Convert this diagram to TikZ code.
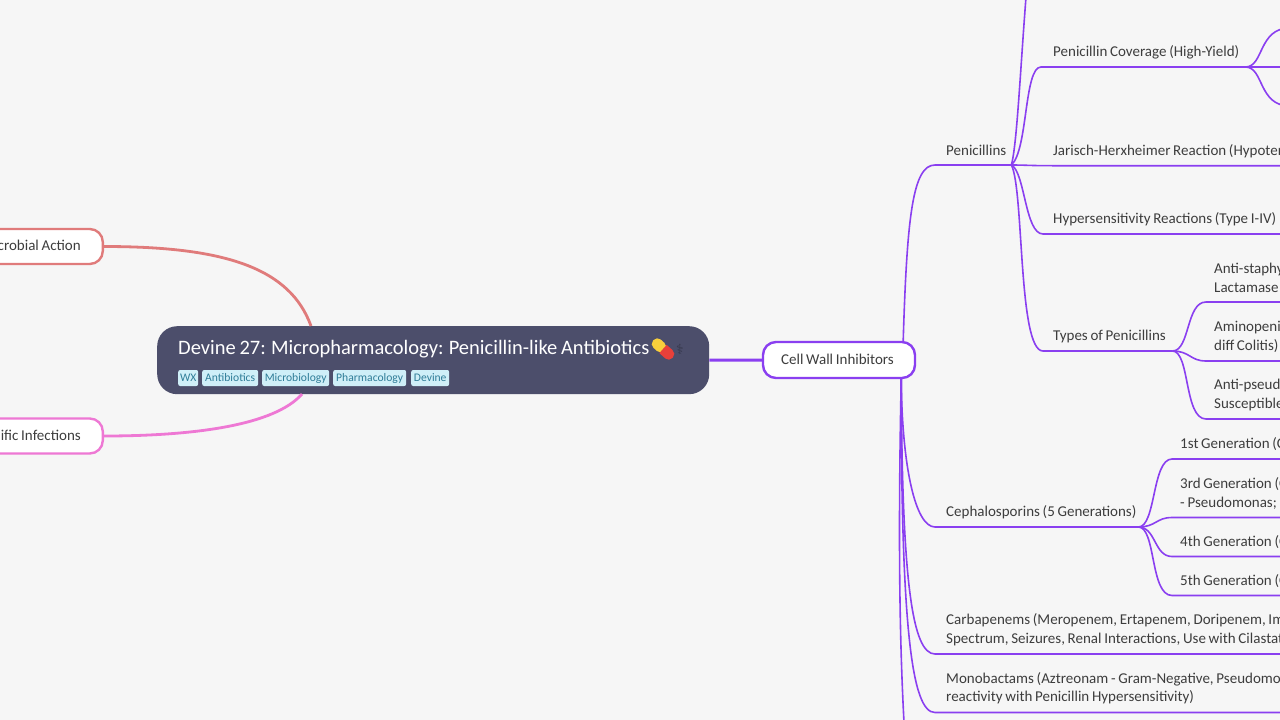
\documentclass[tikz,border=0pt]{standalone}
\usepackage{fontspec}
\setmainfont{Carlito}[WordSpace=0.8]
\newfontfamily\symfont{DejaVu Sans}
\definecolor{bgc}{HTML}{F6F6F6}
\definecolor{inkc}{HTML}{3D3D3D}
\definecolor{rootc}{HTML}{4C4E6B}
\definecolor{purp}{HTML}{8A3FF0}
\definecolor{redl}{HTML}{E07B7B}
\definecolor{pinkl}{HTML}{EE78D4}
\definecolor{tagf}{HTML}{CFEFF8}
\definecolor{tagt}{HTML}{2F7D98}
\definecolor{pilly}{HTML}{F8CF3C}
\definecolor{pillr}{HTML}{E8403A}
\tikzset{
  x=1pt,y=-1pt,
  every node/.style={font=\fontsize{15}{18.5}\selectfont,text=inkc},
  leaf/.style={anchor=south west,inner xsep=0pt,inner ysep=0pt,text width=#1,align=flush left,minimum height=29pt},
  leaftwo/.style={leaf=#1,minimum height=48pt},
  conn/.style={draw=purp,line width=1.6pt},
  tagbox/.style={fill=tagf,rounded corners=2pt,inner xsep=0pt,inner ysep=0pt,minimum height=16pt,text=tagt,font=\fontsize{11.6}{13}\selectfont,anchor=west},
  branch/.style={draw=#1,fill=white,line width=2.4pt,rounded corners=13pt,anchor=east,minimum height=35pt,minimum width=170pt,inner xsep=22pt,align=flush right,text width=126pt}
}
\begin{document}
\begin{tikzpicture}
\useasboundingbox (0,0) rectangle (1280,720);
\clip (0,0) rectangle (1280,720);
\fill[bgc] (0,0) rectangle (1280,720);

% root and first-level nodes
\node[fill=rootc,rounded corners=20pt,minimum width=552pt,minimum height=68pt,anchor=north west,inner sep=0pt] (root) at (157,326) {};
\node[anchor=west,inner sep=0pt,text=white,font=\fontsize{20.5}{24}\selectfont] (title) at (178,349) {Devine 27: Micropharmacology: Penicillin-like Antibiotics};
\node[tagbox,minimum width=20pt] (t1) at (178,378) {WX};
\node[tagbox,minimum width=56pt] (t2) at (202,378) {Antibiotics};
\node[tagbox,minimum width=67pt] (t3) at (262,378) {Microbiology};
\node[tagbox,minimum width=73pt] (t4) at (333,378) {Pharmacology};
\node[tagbox,minimum width=38pt] (t5) at (411,378) {Devine};
% pill emoji
\begin{scope}[shift={(663,349)},rotate=-42]
  \fill[pillr,rounded corners=5pt] (-2,-5.5) rectangle (13,5.5);
  \fill[pilly,rounded corners=5pt] (-13,-5.5) rectangle (2,5.5);
  \fill[pillr] (0,-5.5) rectangle (3,5.5);
\end{scope}
\node[inner sep=0pt,text=rootc!70!black,font=\symfont\fontsize{14}{14}\selectfont] (staff) at (680,349) {⚕};

\node[draw=purp,fill=white,line width=2.4pt,rounded corners=13pt,minimum width=152pt,minimum height=36pt,inner sep=0pt] (cwi) at (839,360) {\raisebox{1pt}{Cell Wall Inhibitors\hspace{3pt}}};
\node[branch=redl] (act) at (104,246.5) {\raisebox{1.5pt}{crobial Action}};
\node[branch=pinkl] (inf) at (104,436) {\raisebox{1.5pt}{ific Infections}};

% leaves
\node[leaf=65] (pen) at (946,165) {Penicillins};
\node[leaf=192] (cov) at (1053,67) {\mbox{Penicillin Coverage (High-Yield)}};
\node[leaf=227] (jar) at (1053,165.7) {\mbox{Jarisch-Herxheimer Reaction (Hypoten}};
\node[leaf=227] (hyp) at (1053,234) {\mbox{Hypersensitivity Reactions (Type I-IV)}};
\node[leaf=119] (typ) at (1053,351) {\mbox{Types of Penicillins}};
\node[leaftwo=66] (sta) at (1214,302) {\mbox{Anti-staphy}\\\mbox{Lactamase}};
\node[leaftwo=66] (ami) at (1214,361) {\mbox{Aminopeni}\\\mbox{diff Colitis)}};
\node[leaftwo=66] (pse) at (1214,419) {\mbox{Anti-pseud}\\\mbox{Susceptible}};
\node[leaf=192] (cep) at (946,527) {\mbox{Cephalosporins (5 Generations)}};
\node[leaf=100] (g1) at (1180,459) {\mbox{1st Generation (C}};
\node[leaftwo=100] (g3) at (1180,517.5) {\mbox{3rd Generation (C}\\\mbox{- Pseudomonas;}};
\node[leaf=100] (g4) at (1180,556.5) {\mbox{4th Generation (C}};
\node[leaf=100] (g5) at (1180,595.5) {\mbox{5th Generation (C}};
\node[leaftwo=334] (car) at (946,654) {\mbox{Carbapenems (Meropenem, Ertapenem, Doripenem, Imi}\\\mbox{Spectrum, Seizures, Renal Interactions, Use with Cilastat}};
\node[leaftwo=334] (mon) at (946,712.5) {\mbox{Monobactams (Aztreonam - Gram-Negative, Pseudomon}\\\mbox{reactivity with Penicillin Hypersensitivity)}};

% free ends
\coordinate (topend) at (1053,-190);
\coordinate (botend) at (907,770);
\coordinate (covup) at (1290,28);
\coordinate (covmid) at (1280,67);
\coordinate (covdn) at (1290,106);
\coordinate (rootup) at (311,326);
\coordinate (rootdn) at (302,394);
\coordinate (cwiup) at ([xshift=-13pt]cwi.north east);
\coordinate (cwidn) at ([xshift=-15pt]cwi.south east);

% connectors
\draw[redl,line width=2.8pt] (act.east) .. controls (225,246.5) and (290,268) .. (rootup);
\draw[pinkl,line width=2.8pt] (inf.east) .. controls (195,436) and (275,425) .. (rootdn);
\draw[purp,line width=3pt] (root.east) -- (cwi.west);

\draw[conn] (cwiup) .. controls (907,215) and (913,165) .. ([xshift=-11pt]pen.south west) -- (pen.south east);
\draw[conn] (cwidn) .. controls (902,465) and (915,527) .. ([xshift=-11pt]cep.south west) -- (cep.south east);
\draw[conn] (cwidn) .. controls (902,580) and (912,654) .. ([xshift=-11pt]car.south west) -- (car.south east);
\draw[conn] (cwidn) .. controls (901,630) and (912,712.5) .. ([xshift=-11pt]mon.south west) -- (mon.south east);
\draw[conn] (cwidn) .. controls (898,540) and (899,660) .. (botend);

\draw[conn] (pen.south east) .. controls (1022,125) and (1024,-100) .. (topend);
\draw[conn] (pen.south east) .. controls (1028,150) and (1024,67) .. ([xshift=-12pt]cov.south west) -- (cov.south east);
\draw[conn] (pen.south east) .. controls (1025,165) and (1030,165.7) .. (jar.south west) -- (jar.south east);
\draw[conn] (pen.south east) .. controls (1025,172) and (1025,234) .. ([xshift=-10pt]hyp.south west) -- (hyp.south east);
\draw[conn] (pen.south east) .. controls (1024,190) and (1018,351) .. ([xshift=-10pt]typ.south west) -- (typ.south east);

\draw[conn] (cov.south east) .. controls (1264,67) and (1258,28) .. (covup);
\draw[conn] (cov.south east) -- (covmid);
\draw[conn] (cov.south east) .. controls (1264,67) and (1258,106) .. (covdn);

\draw[conn] (typ.south east) .. controls (1190,351) and (1186,302) .. ([xshift=-8pt]sta.south west) -- (sta.south east);
\draw[conn] (typ.south east) .. controls (1190,351) and (1190,361) .. ([xshift=-8pt]ami.south west) -- (ami.south east);
\draw[conn] (typ.south east) .. controls (1190,351) and (1184,419) .. ([xshift=-8pt]pse.south west) -- (pse.south east);

\draw[conn] (cep.south east) .. controls (1156,527) and (1152,459) .. ([xshift=-8pt]g1.south west) -- (g1.south east);
\draw[conn] (cep.south east) .. controls (1156,527) and (1156,517.5) .. ([xshift=-8pt]g3.south west) -- (g3.south east);
\draw[conn] (cep.south east) .. controls (1156,527) and (1154,556.5) .. ([xshift=-8pt]g4.south west) -- (g4.south east);
\draw[conn] (cep.south east) .. controls (1156,527) and (1150,595.5) .. ([xshift=-8pt]g5.south west) -- (g5.south east);
\end{tikzpicture}
\end{document}
